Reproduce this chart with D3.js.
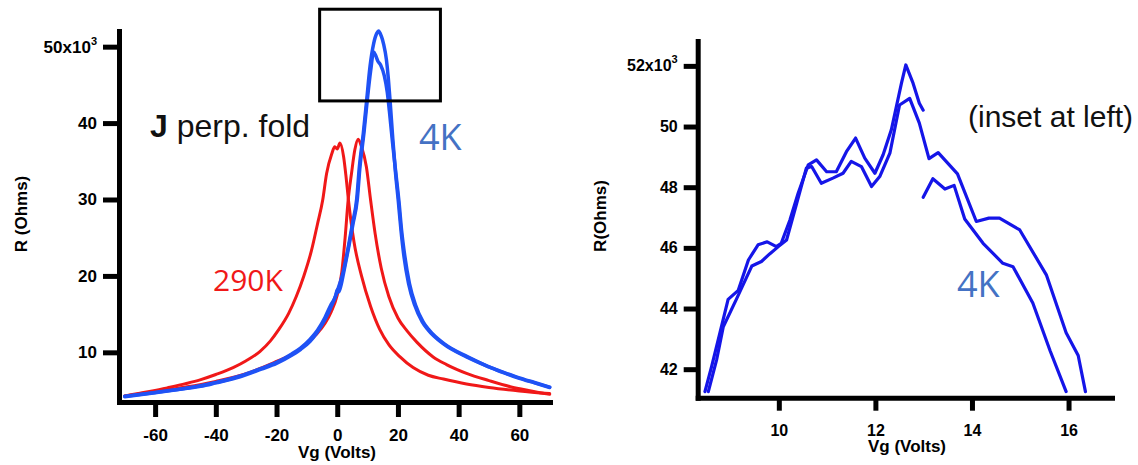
<!DOCTYPE html>
<html>
<head>
<meta charset="utf-8">
<script src="https://cdn.jsdelivr.net/npm/d3@7"></script>
<style>
body { margin:0; background:#fff; }
</style>
</head>
<body>
<svg id="chart" width="1138" height="465"></svg>
<script>
// tick values
var leftXTicks = [-60, -40, -20, 0, 20, 40, 60];
var leftYTicks = [10, 20, 30, 40, 50];
var rightXTicks = [10, 12, 14, 16];
var rightYTicks = [42, 44, 46, 48, 50, 52];

// 290K sweeps, [Vg (V), R (kOhm)]
var red290A = [[-70,4.3],[-65,4.65],[-60,5.0],[-56,5.35],[-50,5.9],[-45.2,6.4],[-40,7.1],[-34.3,8.0],[-30,8.9],[-25.5,10.1],[-22,11.5],[-19.4,12.9],[-16,15.1],[-13.5,17.3],[-11,20.0],[-8.5,23.3],[-6.5,26.8],[-4.8,29.9],[-3.5,33.4],[-1.8,36.0],[-0.8,36.9],[0,36.6],[0.9,37.4],[2.1,35.6],[2.9,33.0],[3.7,29.9],[5.5,24.5],[8,20],[11,16],[14,13],[17,11],[20.7,9.4],[25,8.0],[30,7.0],[35,6.5],[42.6,5.85],[50,5.4],[60,4.95],[70,4.6]];
var red290B = [[-70,4.3],[-60,4.85],[-50,5.45],[-40,6.2],[-30,7.2],[-20,8.8],[-15,9.7],[-12,10.5],[-7,12.3],[-4,13.8],[-2,15.3],[0,17.5],[1.5,20.5],[2.6,25],[3.6,29.9],[4.7,33.4],[5.8,36.5],[6.9,37.9],[8.0,36.9],[9.6,34.3],[11.0,29.9],[12.5,25.5],[14.5,21],[17,17.3],[20,14.5],[23,12.8],[26.3,11.3],[31.6,9.4],[36,8.4],[42.6,7.25],[50,6.3],[57,5.5],[63,5.0],[70,4.5]];

// 4K sweeps
var blue4KA = [[-70,4.2],[-60,4.7],[-50,5.25],[-45,5.55],[-40,6.0],[-32,6.8],[-25,7.8],[-20,8.55],[-15,9.6],[-12,10.4],[-9,11.4],[-6.8,12.5],[-4,14.3],[-2.4,15.6],[-1,16.9],[0.5,18.6],[2,20.6],[3.5,23.5],[5,26.8],[6.4,30],[7.3,34.3],[8.6,38.7],[9.7,43.0],[10.8,47.4],[12,50.4],[13.1,51.8],[13.6,52.05],[14.5,51.4],[15.3,50.3],[16.2,48.3],[16.8,46],[17.4,43.0],[18.3,38],[19.2,33.5],[20.1,29.9],[21,26],[22,22.5],[23.5,19],[25.5,16.2],[28,14],[30,12.9],[35,11.1],[42.6,9.4],[50,8.1],[55,7.3],[60,6.6],[65,6.0],[70,5.4]];
var blue4KB = [[-70,4.25],[-60,4.75],[-50,5.3],[-40,6.05],[-32,6.9],[-25,7.9],[-20,8.7],[-15,9.8],[-12,10.6],[-9,11.7],[-6.5,12.9],[-4,14.6],[-2,16.3],[-0.5,17.4],[0,18.2],[0.5,17.9],[1.2,18.7],[2.3,20.8],[3.7,23.6],[5.2,26.8],[6.6,30],[7.5,34.3],[8.8,38.7],[9.9,43],[11,46.8],[12,49.3],[12.6,48.9],[13.4,48.1],[14.3,47.6],[15.5,46.2],[16.5,44],[17.2,41.5],[18.2,37.5],[19.3,33.5],[20.3,29.9],[21.2,26],[22.3,22.5],[23.8,19],[25.8,16.2],[28.3,14],[30.3,12.9],[35.3,11.1],[43,9.4],[50,8.1],[55,7.35],[60,6.65],[65,6.05],[70,5.45]];

// zoom box drawn on the left panel (Vg range, R range)
var boxVg = [-5.8, 34];
var boxR = [42.9, 54.9];

// inset (right panel), the first trace has a gap at 13 V
var insetA = [[8.47,41.26],[8.61,42.1],[8.78,43.2],[8.95,44.3],[9.16,44.6],[9.37,45.6],[9.57,46.1],[9.76,46.2],[9.95,46.04],[10.05,46.15],[10.23,46.92],[10.40,47.8],[10.61,48.74],[10.78,48.9],[10.99,48.51],[11.19,48.51],[11.40,49.17],[11.59,49.62],[11.78,48.96],[11.99,48.46],[12.16,49.07],[12.33,49.89],[12.54,51.43],[12.63,52.03],[12.78,51.43],[12.91,50.77],[12.99,50.54],null,[12.99,47.67],[13.19,48.28],[13.44,47.94],[13.63,48.06],[13.85,46.95],[14.23,46.15],[14.64,45.49],[14.85,45.38],[15.26,44.18],[15.62,42.6],[15.95,41.26]];
var insetB = [[8.54,41.26],[8.71,42.3],[8.85,43.4],[9.12,44.3],[9.44,45.4],[9.64,45.55],[9.81,45.8],[9.99,46.04],[10.16,46.26],[10.37,47.47],[10.57,48.63],[10.68,48.68],[10.88,48.13],[11.12,48.3],[11.33,48.46],[11.50,48.85],[11.71,48.68],[11.92,48.02],[12.09,48.35],[12.30,49.12],[12.50,50.71],[12.71,50.93],[12.91,50.11],[13.11,48.94],[13.30,49.14],[13.70,48.44],[14.09,46.87],[14.35,46.98],[14.57,46.98],[14.99,46.59],[15.54,45.11],[15.95,43.2],[16.2,42.45],[16.35,41.26]];

var FONT = "'Liberation Sans', Arial, sans-serif";
var svg = d3.select("#chart");

var styleAxis = function(ax, fontSize) {
	ax.select(".domain")
	.attr("stroke", "#000")
	.attr("stroke-width", 5)
	.attr("stroke-linecap", "square");
	ax.selectAll(".tick line")
	.attr("stroke", "#000")
	.attr("stroke-width", 5);
	ax.selectAll(".tick text")
	.attr("fill", "#000")
	.attr("font-family", FONT)
	.attr("font-weight", "bold")
	.attr("font-size", fontSize);
};

// top y tick gets the "x10^3" multiplier
var addMultiplier = function(ax, top) {
	ax.selectAll(".tick text")
	.filter(function(d) { return d === top; })
	.text(top + "x10")
	.append("tspan")
	.attr("dy", -8)
	.attr("font-size", 11)
	.text("3");
};

// plain hyphen for negatives, like the original
var plain = function(d) { return String(d); };

var drawPanel = function(p) {
	var x = d3.scaleLinear().domain(p.xDomain).range(p.xRange);
	var y = d3.scaleLinear().domain(p.yDomain).range(p.yRange);
	var g = svg.append("g");

	var line = d3.line()
	.defined(function(d) { return d !== null; })
	.x(function(d) { return x(d[0]); })
	.y(function(d) { return y(d[1]); })
	.curve(p.curve);

	p.series.forEach(function(s) {
		g.append("path")
		.datum(s.data)
		.attr("fill", "none")
		.attr("stroke", s.color)
		.attr("stroke-width", s.width)
		.attr("stroke-linejoin", "round")
		.attr("stroke-linecap", "round")
		.attr("d", line);
	});

	var xAx = g.append("g")
	.attr("transform", "translate(0," + p.yRange[0] + ")")
	.call(d3.axisBottom(x).tickValues(p.xTicks).tickFormat(plain).tickSize(p.xTickSize).tickPadding(p.xTickPad).tickSizeOuter(0));
	styleAxis(xAx, p.fontSize);

	var yAx = g.append("g")
	.attr("transform", "translate(" + p.xRange[0] + ",0)")
	.call(d3.axisLeft(y).tickValues(p.yTicks).tickFormat(plain).tickSize(p.yTickSize).tickPadding(6).tickSizeOuter(0));
	styleAxis(yAx, p.fontSize);
	addMultiplier(yAx, p.yTicks[p.yTicks.length - 1]);

	g.append("text")
	.attr("transform", "translate(" + p.yLabelPos[0] + "," + p.yLabelPos[1] + ") rotate(-90)")
	.attr("text-anchor", "middle")
	.attr("dominant-baseline", "central")
	.attr("font-family", FONT)
	.attr("font-weight", "bold")
	.attr("font-size", 17)
	.text(p.yLabel);

	g.append("text")
	.attr("x", p.xLabelPos[0])
	.attr("y", p.xLabelPos[1])
	.attr("text-anchor", "middle")
	.attr("font-family", FONT)
	.attr("font-weight", "bold")
	.attr("font-size", 17)
	.text("Vg (Volts)");

	return {g: g, x: x, y: y};
};

var left = drawPanel({
	xDomain: [-71.9, 70.1], xRange: [119, 550],
	yDomain: [3.5, 52.05], yRange: [402, 31],
	xTicks: leftXTicks, yTicks: leftYTicks,
	xTickSize: 15, xTickPad: 12, yTickSize: 16,
	fontSize: 17,
	curve: d3.curveMonotoneX,
	yLabel: "R (Ohms)", yLabelPos: [21, 214], xLabelPos: [337, 458],
	series: [
		{data: red290A, color: "#f01818", width: 3},
		{data: red290B, color: "#f01818", width: 3},
		{data: blue4KB, color: "#1f52f5", width: 3.5},
		{data: blue4KA, color: "#1f52f5", width: 3.5}
	]
});

var right = drawPanel({
	xDomain: [8.32, 16.9], xRange: [697.7, 1112],
	yDomain: [41.06, 52.82], yRange: [397.7, 41],
	xTicks: rightXTicks, yTicks: rightYTicks,
	xTickSize: 13, xTickPad: 14, yTickSize: 14,
	fontSize: 16,
	curve: d3.curveLinear,
	yLabel: "R(Ohms)", yLabelPos: [600, 216], xLabelPos: [907, 452],
	series: [
		{data: insetA, color: "#1515e8", width: 3.2},
		{data: insetB, color: "#1515e8", width: 3.2}
	]
});

// rectangle marking the region shown in the inset
left.g.append("rect")
.attr("x", left.x(boxVg[0]))
.attr("y", left.y(boxR[1]))
.attr("width", left.x(boxVg[1]) - left.x(boxVg[0]))
.attr("height", left.y(boxR[0]) - left.y(boxR[1]))
.attr("fill", "none")
.attr("stroke", "#000")
.attr("stroke-width", 3);

// annotations
var title = svg.append("text")
.attr("x", 150)
.attr("y", 137)
.attr("font-family", FONT)
.attr("font-size", 32)
.attr("fill", "#111");
title.append("tspan").attr("font-weight", "bold").text("J");
title.append("tspan").text(" perp. fold");

svg.append("text")
.attr("x", 419).attr("y", 150)
.attr("font-family", "'Open Sans', 'Noto Sans', sans-serif")
.attr("font-size", 36)
.attr("fill", "#4472c4")
.text("4K");

svg.append("text")
.attr("x", 213).attr("y", 291)
.attr("font-family", "'Open Sans', 'Noto Sans', sans-serif")
.attr("font-size", 30)
.attr("fill", "#f01818")
.text("290K");

svg.append("text")
.attr("x", 957).attr("y", 297)
.attr("font-family", "'Open Sans', 'Noto Sans', sans-serif")
.attr("font-size", 36)
.attr("fill", "#4472c4")
.text("4K");

svg.append("text")
.attr("x", 968).attr("y", 127)
.attr("font-family", FONT)
.attr("font-size", 30)
.attr("fill", "#111")
.text("(inset at left)");
</script>
</body>
</html>
